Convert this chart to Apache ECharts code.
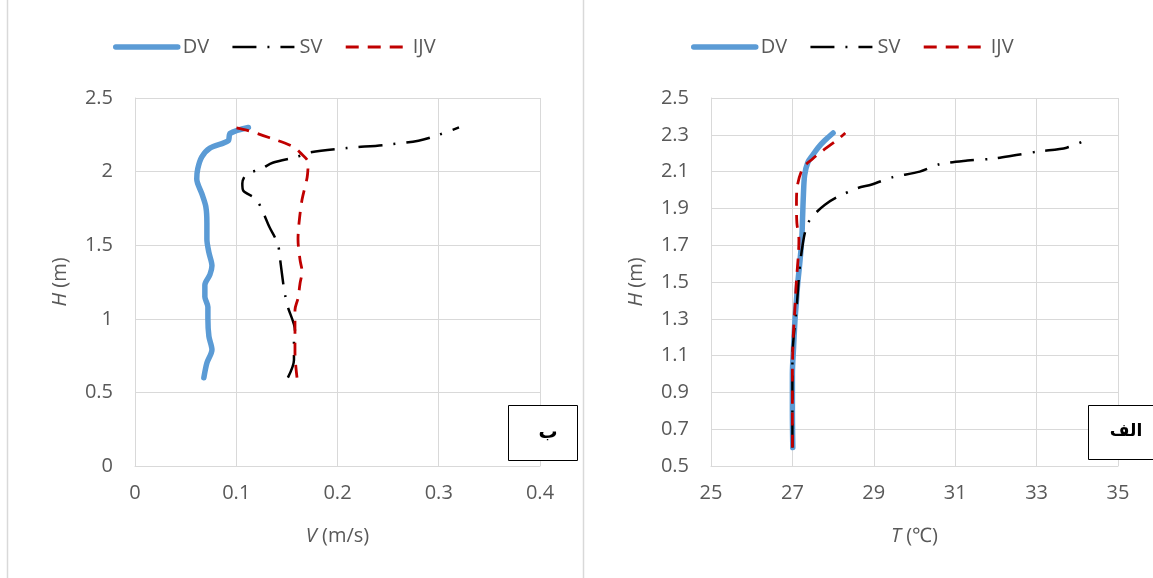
<!DOCTYPE html>
<html><head><meta charset="utf-8">
<script src="https://cdn.jsdelivr.net/npm/echarts@6/dist/echarts.min.js"></script>
<style>html,body{margin:0;padding:0;background:#fff}#c{width:1153px;height:578px}</style>
</head><body><div id="c"></div>
<script>
const seriesNames = ['DV', 'SV', 'IJV'];

// Left chart (ب): velocity V (m/s) against height H (m)
const leftDV_V = [0.068,0.071,0.076,0.073,0.072,0.072,0.069,0.069,0.074,0.076,0.073,0.071,0.071,0.070,0.066,0.061,0.062,0.066,0.074,0.092,0.094,0.112];
const leftDV_H = [0.60,0.70,0.79,0.88,1.00,1.08,1.15,1.23,1.30,1.36,1.45,1.54,1.65,1.76,1.85,1.95,2.02,2.10,2.16,2.21,2.26,2.30];
const leftSV_V = [0.151,0.157,0.157,0.158,0.151,0.148,0.146,0.143,0.141,0.133,0.120,0.107,0.106,0.110,0.125,0.136,0.160,0.173,0.209,0.245,0.280,0.300,0.320];
const leftSV_H = [0.60,0.72,0.84,0.92,1.08,1.17,1.26,1.42,1.51,1.62,1.81,1.87,1.92,1.98,2.02,2.06,2.10,2.13,2.16,2.18,2.21,2.25,2.30];
const leftIJV_V = [0.160,0.158,0.158,0.158,0.161,0.163,0.165,0.163,0.161,0.162,0.165,0.170,0.171,0.163,0.156,0.133,0.111,0.092];
const leftIJV_H = [0.60,0.77,0.90,1.06,1.14,1.24,1.32,1.40,1.54,1.65,1.81,1.96,2.06,2.13,2.17,2.23,2.28,2.31];

// Right chart (الف): temperature T (℃) against height H (m)
const rightDV_T = [27.01,27.00,27.00,27.03,27.06,27.10,27.13,27.18,27.23,27.25,27.27,27.30,27.38,27.50,27.63,27.80,28.00];
const rightDV_H = [0.60,0.80,1.00,1.15,1.28,1.40,1.49,1.60,1.73,1.85,1.97,2.08,2.15,2.19,2.23,2.27,2.31];
const rightSV_T = [27.00,27.00,27.00,27.03,27.10,27.15,27.20,27.25,27.31,27.38,27.55,27.80,28.09,28.60,28.95,29.47,30.13,30.62,31.30,31.92,32.50,33.07,33.74,34.30];
const rightSV_H = [0.60,0.84,1.08,1.20,1.35,1.50,1.62,1.70,1.77,1.82,1.87,1.92,1.96,2.01,2.03,2.07,2.10,2.14,2.16,2.17,2.19,2.21,2.23,2.28];
const rightIJV_T = [27.00,27.00,27.00,27.02,27.06,27.10,27.15,27.16,27.11,27.10,27.12,27.26,27.50,27.72,28.09,28.30];
const rightIJV_H = [0.60,0.80,1.00,1.20,1.35,1.51,1.66,1.73,1.82,1.92,2.02,2.12,2.17,2.21,2.27,2.31];

// Axis settings / labels
const leftX = {min: 0, max: 0.4, interval: 0.1};
const leftY = {min: 0, max: 2.5, interval: 0.5};
const rightX = {min: 25, max: 35, interval: 2};
const rightY = {min: 0.5, max: 2.5, interval: 0.2};
const panelLabels = ['ب', 'الف'];

const FONT = 'Open Sans';
const GREY = '#595959';
const GRID = '#D9D9D9';

function pairs(xs, ys) { return xs.map((x, i) => [x, ys[i]]); }

const styles = {
  DV: {color: '#5B9BD5', width: 5.5, type: 'solid', cap: 'round', join: 'round'},
  SV: {color: '#000000', width: 2.5, type: [24, 11, 2, 11], cap: 'butt', join: 'round'},
  IJV: {color: '#C00000', width: 2.8, type: [13, 9], cap: 'butt', join: 'round'}
};

function mkSeries(name, data, idx) {
  const s = styles[name];
  return {
    name: name, type: 'line', xAxisIndex: idx, yAxisIndex: idx,
    data: data, showSymbol: false, symbol: 'none', smooth: 0.3,
    lineStyle: {color: s.color, width: s.width, type: s.type, cap: s.cap, join: s.join},
    itemStyle: {color: s.color},
    emphasis: {disabled: true}, animation: false
  };
}

const nameStyle = {fontFamily: FONT, fontSize: 20, color: GREY,
  rich: {i: {fontFamily: FONT, fontSize: 20, color: GREY, fontStyle: 'italic'}}};

function xAxisOpt(ax, idx, name) {
  return {
    type: 'value', gridIndex: idx, min: ax.min, max: ax.max, interval: ax.interval,
    name: name, nameLocation: 'middle', nameGap: 60,
    nameTextStyle: nameStyle,
    axisLine: {show: true, lineStyle: {color: GRID, width: 1}},
    axisTick: {show: false},
    axisLabel: {fontFamily: FONT, fontSize: 20, color: GREY, margin: 17},
    splitLine: {show: true, lineStyle: {color: GRID, width: 1}}
  };
}
function yAxisOpt(ax, idx, name) {
  return {
    type: 'value', gridIndex: idx, min: ax.min, max: ax.max, interval: ax.interval,
    name: name, nameLocation: 'middle', nameGap: 65, nameRotate: 90,
    nameTextStyle: nameStyle,
    axisLine: {show: true, lineStyle: {color: GRID, width: 1}},
    axisTick: {show: false},
    axisLabel: {fontFamily: FONT, fontSize: 20, color: GREY, margin: 22},
    splitLine: {show: true, lineStyle: {color: GRID, width: 1}}
  };
}
function legendOpt(left) {
  return {
    left: left, top: 32, itemWidth: 62, itemHeight: 14, itemGap: 22,
    data: seriesNames,
    selectedMode: false,
    textStyle: {fontFamily: FONT, fontSize: 20, color: GREY},
    lineStyle: {width: 'inherit'},
    itemStyle: {opacity: 0}
  };
}

const option = {
  backgroundColor: '#ffffff',
  animation: false,
  grid: [
    {left: 135, top: 98, width: 405, height: 368},
    {left: 711, top: 98, width: 407, height: 368}
  ],
  legend: [legendOpt(108), legendOpt(686)],
  xAxis: [xAxisOpt(leftX, 0, '{i|V} (m/s)'), xAxisOpt(rightX, 1, '{i|T} (℃)')],
  yAxis: [yAxisOpt(leftY, 0, '{i|H} (m)'), yAxisOpt(rightY, 1, '{i|H} (m)')],
  series: [
    mkSeries('DV', pairs(leftDV_V, leftDV_H), 0),
    mkSeries('SV', pairs(leftSV_V, leftSV_H), 0),
    mkSeries('IJV', pairs(leftIJV_V, leftIJV_H), 0),
    mkSeries('DV', pairs(rightDV_T, rightDV_H), 1),
    mkSeries('SV', pairs(rightSV_T, rightSV_H), 1),
    mkSeries('IJV', pairs(rightIJV_T, rightIJV_H), 1)
  ],
  graphic: [
    {type: 'line', shape: {x1: 7.5, y1: 0, x2: 7.5, y2: 578}, style: {stroke: GRID, lineWidth: 1.5}, silent: true},
    {type: 'line', shape: {x1: 583.5, y1: 0, x2: 583.5, y2: 578}, style: {stroke: GRID, lineWidth: 1.5}, silent: true},
    {type: 'rect', shape: {x: 508.5, y: 405.5, width: 69, height: 55}, style: {fill: '#fff', stroke: '#000', lineWidth: 1}, z: 100},
    {type: 'text', x: 548, y: 433, style: {text: panelLabels[0], font: 'bold 19px "DejaVu Sans"', fill: '#000', align: 'center', verticalAlign: 'middle'}, z: 101},
    {type: 'rect', shape: {x: 1088.5, y: 405.5, width: 70, height: 54}, style: {fill: '#fff', stroke: '#000', lineWidth: 1}, z: 100},
    {type: 'text', x: 1126, y: 432, style: {text: panelLabels[1], font: 'bold 17px "DejaVu Sans"', fill: '#000', align: 'center', verticalAlign: 'middle'}, z: 101}
  ]
};

const chart = echarts.init(document.getElementById('c'), null, {renderer: 'canvas'});
chart.setOption(option);
</script>
</body></html>
